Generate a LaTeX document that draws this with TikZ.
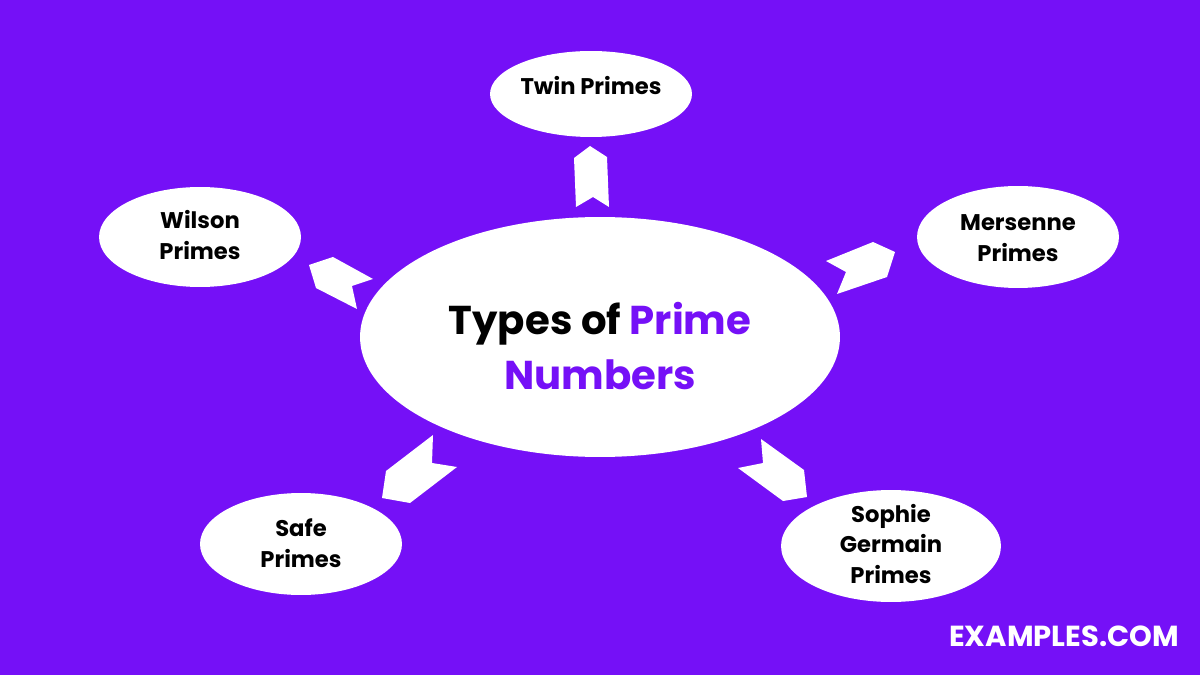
\documentclass[tikz,border=0pt]{standalone}
\usepackage{fontspec}
\setmainfont{Poppins}
\usetikzlibrary{shapes.geometric}
\definecolor{bgpurple}{HTML}{7510F7}
\tikzset{
  bubble/.style={ellipse, fill=white, draw=none, inner sep=0pt},
  lbl/.style={align=center, font=\bfseries\fontsize{12.9pt}{17.6pt}\selectfont, text=black, inner sep=0pt},
  chev/.style={fill=white, draw=none},
}
\begin{document}
\begin{tikzpicture}[x=0.02cm, y=-0.02cm]
\fill[bgpurple] (0,0) rectangle (1200,675);
\useasboundingbox (0,0) rectangle (1200,675);
% ellipses
\node[bubble, minimum width=9.6cm, minimum height=4.8cm] (center) at (600,337) {};
\node[bubble, minimum width=4.04cm, minimum height=1.72cm] (twin) at (591,94) {};
\node[bubble, minimum width=4.04cm, minimum height=2.0cm] (wilson) at (200,237) {};
\node[bubble, minimum width=4.04cm, minimum height=2.04cm] (mersenne) at (1018,237) {};
\node[bubble, minimum width=4.04cm, minimum height=2.04cm] (safe) at (301,544) {};
\node[bubble, minimum width=4.4cm, minimum height=2.24cm] (sophie) at (891,546) {};
% texts
\node[align=center, inner sep=0pt, font=\bfseries\fontsize{22.9pt}{31.7pt}\selectfont] (title) at (600,346) {Types of \textcolor{bgpurple}{Prime}\\\textcolor{bgpurple}{Numbers}};
\node[lbl] (twintxt) at (591,86) {Twin Primes};
\node[lbl] (wilsontxt) at (200,235) {Wilson\\Primes};
\node[lbl] (mersennetxt) at (1018,238) {Mersenne\\Primes};
\node[lbl] (safetxt) at (301,543) {Safe\\Primes};
\node[lbl] (sophietxt) at (891,544) {Sophie\\Germain\\Primes};
\node[text=white, inner sep=0pt, font=\bfseries\fontsize{16.5pt}{19pt}\selectfont] (brand) at (1064,636) {EXAMPLES.COM};
% chevron arrows
\fill[chev] (590,146) -- (607,157) -- (609,207) -- (593,197) -- (576,207) -- (574,158) -- cycle;
\fill[chev] (309,265) -- (333,257) -- (373,279) -- (352,286) -- (357,309) -- (316,288) -- cycle;
\fill[chev] (895,252) -- (887,277) -- (837,294) -- (846,272) -- (826,261) -- (873,242) -- cycle;
\fill[chev] (386,471) -- (433,435) -- (432,463) -- (457,467) -- (410,503) -- (382,498) -- cycle;
\fill[chev] (804,470) -- (807,497) -- (783,501) -- (738,468) -- (763,463) -- (761,439) -- cycle;
\end{tikzpicture}
\end{document}
